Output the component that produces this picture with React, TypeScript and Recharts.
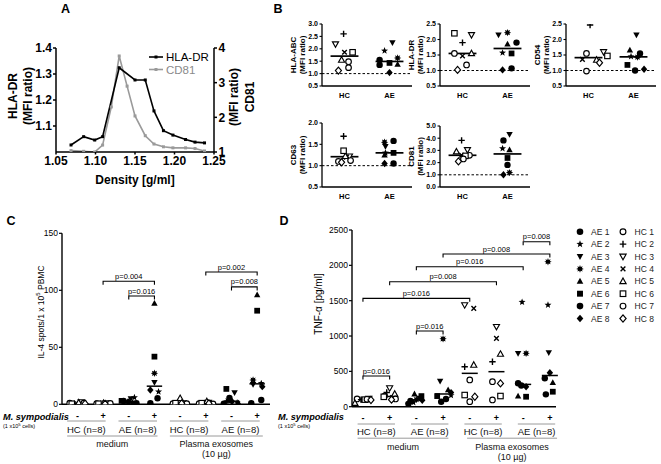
import React from 'react';
import { ScatterChart, Scatter, LineChart, Line, XAxis, YAxis, ReferenceLine } from 'recharts';

const W = 661;
const H = 464;
const FONT = '"Liberation Sans", Arial, Helvetica, sans-serif';
const AX = 1; // minimal axis box size (an axis of size 0 is not drawn)

/* ---------------- Panel A data ---------------- */
const hlaDrDensity = [1.069, 1.085, 1.099, 1.109, 1.13, 1.15, 1.163, 1.174, 1.186, 1.198, 1.214, 1.226, 1.238];
const hlaDrRatio = [1.027, 1.059, 1.046, 1.059, 1.324, 1.277, 1.277, 1.158, 1.082, 1.065, 1.048, 1.038, 1.035];
const cd81Density = [1.069, 1.085, 1.099, 1.109, 1.12, 1.13, 1.14, 1.15, 1.163, 1.174, 1.186, 1.198, 1.214, 1.226, 1.238];
const cd81Ratio = [1.04, 1.02, 1.0, 1.2, 2.3, 3.77, 2.9, 2.04, 1.47, 1.23, 1.15, 1.12, 1.12, 1.1, 1.03];
const densityTicks = [1.05, 1.1, 1.15, 1.2, 1.25];
const hlaDrTicks = [1.1, 1.2, 1.3, 1.4];
const cd81Ticks = [1, 2, 3, 4];

/* ---------------- subjects ---------------- */
const subjectsAE = ['AE 1', 'AE 2', 'AE 3', 'AE 4', 'AE 5', 'AE 6', 'AE 7', 'AE 8'];
const subjectsHC = ['HC 1', 'HC 2', 'HC 3', 'HC 4', 'HC 5', 'HC 6', 'HC 7', 'HC 8'];

/* ---------------- Panel B data (subject order 1..8) ---------------- */
const hlaAbcHC = [1.48, 2.6, 2.19, 1.86, 1.55, 1.86, 1.24, 1.12];
const hlaAbcAE = [1.55, 1.92, 2.25, 1.63, 1.37, 1.43, 1.35, 1.04];
const hlaAbcSpreadHC = [0.18, -0.04, -0.4, 0, -0.13, 0.36, 0.18, -0.27];
const hlaAbcSpreadAE = [-0.44, -0.22, 0.13, 0.36, 0.36, 0, -0.44, 0];
const hlaAbcTicks = [0.5, 1.0, 1.5, 2.0, 2.5, 3.0];

const hlaDrHC = [1.55, 1.9, 2.15, 1.47, 1.55, 2.2, 1.18, 1.02];
const hlaDrAE = [1.9, 1.57, 2.15, 2.22, 1.85, 1.55, 1.07, 1.02];
const hlaDrSpreadHC = [-0.36, 0, 0.4, 0, 0.4, -0.36, 0.18, -0.22];
const hlaDrSpreadAE = [0.4, -0.22, -0.4, 0, 0, 0.18, 0.18, -0.22];
const hlaDrBTicks = [0.5, 1.0, 1.5, 2.0, 2.5];

const cd54HC = [1.55, 2.47, 1.6, 1.36, 1.34, 1.47, 0.98, 1.25];
const cd54AE = [1.55, 1.45, 2.15, 1.43, 1.66, 1.18, 1.0, 1.04];
const cd54SpreadHC = [-0.09, 0.07, 0.67, -0.27, 0.36, 0.84, -0.09, 0.49];
const cd54SpreadAE = [0.29, -0.11, 0.13, 0.18, -0.16, -0.27, 0.07, 0.47];
const cd54Ticks = [0.5, 1.0, 1.5, 2.0, 2.5];

const cd63HC = [1.1, 1.69, 1.22, 1.2, 1.22, 1.35, 1.12, 1.08];
const cd63AE = [1.58, 1.3, 1.45, 1.55, 1.25, 1.3, 1.05, 1.05];
const cd63SpreadHC = [-0.27, -0.04, 0.22, 0.09, 0.04, -0.04, 0.27, -0.13];
const cd63SpreadAE = [0.18, -0.18, -0.18, -0.22, -0.22, 0.18, 0.18, -0.22];
const cd63Ticks = [0.5, 1.0, 1.5, 2.0];

const cd81HC = [2.6, 3.82, 3.05, 2.6, 2.9, 2.55, 2.3, 2.1];
const cd81AE = [3.82, 3.16, 4.31, 1.18, 3.04, 2.38, 1.81, 1.0];
const cd81SpreadHC = [0.31, -0.04, 0.22, -0.04, -0.27, 0.13, 0.04, -0.18];
const cd81SpreadAE = [-0.18, -0.22, 0.09, 0.09, 0.09, 0, 0, -0.18];
const cd81BTicks = [0, 1, 2, 3, 4, 5];

/* ---------------- Panel C data: IL-4 spots ---------------- */
const cMedHCneg = [1, 0.5, 2, 0.5, 1.5, 0.5, 1, 0.5];
const cMedHCpos = [0.5, 0.5, 1, 0.3, 1, 0.5, 0.8, 0.3];
const cMedAEneg = [3, 6, 5, 2, 1.5, 3, 1, 2];
const cMedAEpos = [5.3, 11, 19.3, 27.2, 88.6, 41.8, 0.9, 12.5];
const cExoHCneg = [0.5, 0.5, 1, 0.3, 5.3, 1, 0.5, 0.8];
const cExoHCpos = [0.5, 1, 1.5, 0.5, 2.5, 1, 0.3, 0.8];
const cExoAEneg = [5.5, 1.5, 10.2, 3, 1, 13.5, 0.5, 2.5];
const cExoAEpos = [3.8, 18.4, 17.5, 21.3, 95.9, 82.1, 0.9, 15.5];
const cSpread = [
  [-0.3, -0.12, 0.15, 0, 0.05, -0.22, 0.25, 0.3],
  [-0.25, -0.1, 0.12, 0.2, 0.02, -0.18, 0.28, 0.08],
  [-0.2, 0.22, 0.08, -0.05, 0.15, -0.28, 0.3, 0.0],
  [0.12, 0.16, 0, 0, 0, 0, -0.16, -0.16],
  [-0.28, -0.1, 0.12, 0.22, 0, -0.18, 0.26, 0.06],
  [-0.26, -0.08, 0.1, 0.2, 0.04, -0.16, 0.28, 0.12],
  [-0.08, 0.22, 0.12, -0.14, 0.28, -0.2, -0.3, 0.02],
  [0.16, 0.16, -0.16, -0.16, 0, 0, -0.23, 0.2],
];
const cTicks = [0, 50, 100, 150];
const cBrackets = [
  { from: 1, to: 3, h: 108, p: 'p=0.004' },
  { from: 2, to: 3, h: 95, p: 'p=0.016' },
  { from: 5, to: 7, h: 116, p: 'p=0.002' },
  { from: 6, to: 7, h: 103, p: 'p=0.008' },
];

/* ---------------- Panel D data: TNF-alpha ---------------- */
const dMedHCneg = [110, 100, 115, 95, 50, 100, 105, 95];
const dMedHCpos = [150, 200, 265, 130, 180, 140, 110, 100];
const dMedAEneg = [80, 60, 120, 100, 180, 150, 40, 90];
const dMedAEpos = [70, 160, 360, 960, 240, 150, 110, 200];
const dExoHCneg = [378, 566, 1439, 1391, 590, 165, 71, 141];
const dExoHCpos = [354, 637, 1132, 967, 745, 151, 95, 330];
const dExoAEneg = [331, 1480, 755, 755, 151, 141, 300, 283];
const dExoAEpos = [402, 1439, 764, 2051, 340, 212, 175, 481];
const dSpread = [
  [-0.22, -0.07, 0.22, 0, -0.3, 0.07, 0.15, 0.3],
  [-0.19, -0.11, 0, 0.11, 0.19, -0.22, 0.22, 0.07],
  [-0.22, -0.11, 0.11, 0, -0.07, 0.19, -0.3, 0.22],
  [-0.07, 0.3, -0.11, 0, 0.19, -0.22, 0.11, 0.3],
  [0, -0.19, -0.19, 0.15, 0.15, -0.19, 0, 0.19],
  [-0.15, -0.15, 0, 0, 0.15, 0.15, -0.15, 0.15],
  [-0.19, -0.04, -0.19, 0.11, -0.19, 0.11, -0.07, 0.11],
  [-0.19, -0.07, -0.04, -0.07, 0.11, 0.11, -0.15, 0],
];
const dTicks = [0, 500, 1000, 1500, 2000, 2500];
const dBrackets = [
  { from: 0, to: 1, h: 434, p: 'p=0.016' },
  { from: 2, to: 3, h: 1071, p: 'p=0.016' },
  { from: 0, to: 4, h: 1533, p: 'p=0.016' },
  { from: 1, to: 5, h: 1768, p: 'p=0.008' },
  { from: 2, to: 6, h: 1980, p: 'p=0.016' },
  { from: 3, to: 7, h: 2160, p: 'p=0.008' },
  { from: 6, to: 7, h: 2334, p: 'p=0.008' },
];

const stimLabels = ['-', '+'];
const pairLabels = ['HC (n=8)', 'AE (n=8)', 'HC (n=8)', 'AE (n=8)'];
const conditionLabels = [['medium'], ['Plasma exosomes', '(10 µg)']];

/* ---------------- styling constants ---------------- */
const markerAE = ['dot', 'star', 'triDown', 'burst', 'triUp', 'square', 'dot', 'diamond'];
const markerHC = ['oCircle', 'plus', 'oTriDown', 'cross', 'oTriUp', 'oSquare', 'oCircle', 'oDiamond'];

const median = (arr: number[]) => {
  const s = [...arr].sort((a, b) => a - b);
  const n = s.length;
  return n % 2 ? s[(n - 1) / 2] : (s[n / 2 - 1] + s[n / 2]) / 2;
};

function starPoints(cx: number, cy: number, n: number, ro: number, ri: number) {
  const pts: string[] = [];
  for (let i = 0; i < 2 * n; i++) {
    const r = i % 2 === 0 ? ro : ri;
    const a = -Math.PI / 2 + (i * Math.PI) / n;
    pts.push(`${(cx + r * Math.cos(a)).toFixed(2)},${(cy + r * Math.sin(a)).toFixed(2)}`);
  }
  return pts.join(' ');
}

function Marker({ kind, cx, cy, r }: any) {
  if (cx == null || cy == null || Number.isNaN(cx) || Number.isNaN(cy)) return null;
  const ink = '#000';
  const sw = 1.15;
  switch (kind) {
    case 'dot':
      return <circle cx={cx} cy={cy} r={r} fill={ink} />;
    case 'oCircle':
      return <circle cx={cx} cy={cy} r={r - 0.4} fill="#fff" stroke={ink} strokeWidth={sw} />;
    case 'star':
      return <polygon points={starPoints(cx, cy, 5, r * 1.15, r * 0.48)} fill={ink} />;
    case 'burst':
      return <polygon points={starPoints(cx, cy, 8, r * 1.15, r * 0.62)} fill={ink} />;
    case 'triUp':
      return <polygon points={`${cx},${cy - r * 1.05} ${cx + r},${cy + r * 0.75} ${cx - r},${cy + r * 0.75}`} fill={ink} />;
    case 'oTriUp':
      return <polygon points={`${cx},${cy - r * 1.0} ${cx + r * 0.95},${cy + r * 0.7} ${cx - r * 0.95},${cy + r * 0.7}`} fill="#fff" stroke={ink} strokeWidth={sw} />;
    case 'triDown':
      return <polygon points={`${cx - r},${cy - r * 0.75} ${cx + r},${cy - r * 0.75} ${cx},${cy + r * 1.05}`} fill={ink} />;
    case 'oTriDown':
      return <polygon points={`${cx - r * 0.95},${cy - r * 0.7} ${cx + r * 0.95},${cy - r * 0.7} ${cx},${cy + r * 1.0}`} fill="#fff" stroke={ink} strokeWidth={sw} />;
    case 'square':
      return <rect x={cx - r * 0.9} y={cy - r * 0.9} width={r * 1.8} height={r * 1.8} fill={ink} />;
    case 'oSquare':
      return <rect x={cx - r * 0.85} y={cy - r * 0.85} width={r * 1.7} height={r * 1.7} fill="#fff" stroke={ink} strokeWidth={sw} />;
    case 'diamond':
      return <polygon points={`${cx},${cy - r * 1.15} ${cx + r},${cy} ${cx},${cy + r * 1.15} ${cx - r},${cy}`} fill={ink} />;
    case 'oDiamond':
      return <polygon points={`${cx},${cy - r * 1.1} ${cx + r * 0.95},${cy} ${cx},${cy + r * 1.1} ${cx - r * 0.95},${cy}`} fill="#fff" stroke={ink} strokeWidth={sw} />;
    case 'plus':
      return <path d={`M${cx - r},${cy}H${cx + r}M${cx},${cy - r}V${cy + r}`} stroke={ink} strokeWidth={1.4} fill="none" />;
    case 'cross': {
      const d = r * 0.72;
      return <path d={`M${cx - d},${cy - d}L${cx + d},${cy + d}M${cx - d},${cy + d}L${cx + d},${cy - d}`} stroke={ink} strokeWidth={1.4} fill="none" />;
    }
    default:
      return null;
  }
}

const shapeR = (r: number) => (p: any) => {
  const kind = (p.payload && p.payload.kind) || p.kind;
  return <Marker kind={kind} cx={p.cx} cy={p.cy} r={r} />;
};

const Layer = ({ children }: any) => (
  <div style={{ position: 'absolute', left: 0, top: 0, width: W, height: H }}>{children}</div>
);

// plot box -> chart margin (accounting for the 1px axis boxes)
const marginOf = (b: any, rightAxis = false) => ({
  top: b.y0,
  left: b.x0 - AX,
  right: W - b.x1 - (rightAxis ? AX : 0),
  bottom: H - b.y1 - AX,
});

/* ---------------- Panel A ---------------- */
const A_BOX = { x0: 56, x1: 214, y0: 48, y1: 152 };

const squareDot = (color: string, s: number) => (p: any) => {
  if (p.cx == null || p.cy == null) return <g key={p.index} />;
  return <rect key={p.index} x={p.cx - s / 2} y={p.cy - s / 2} width={s} height={s} fill={color} />;
};

function PanelA() {
  const hla = hlaDrDensity.map((x, i) => ({ x, v: hlaDrRatio[i] }));
  const cd = cd81Density.map((x, i) => ({ x, v: cd81Ratio[i] }));
  const tick = { fontSize: 12, fontWeight: 700, fill: '#000' };
  return (
    <Layer>
      <LineChart width={W} height={H} margin={marginOf(A_BOX, true)}>
        <XAxis type="number" dataKey="x" domain={[1.05, 1.25]} ticks={densityTicks} interval={0}
          tickFormatter={(v: number) => v.toFixed(2)} height={AX} tickSize={2.5} tickMargin={1.5}
          tick={tick} axisLine={{ stroke: '#000', strokeWidth: 1.5 }} tickLine={{ stroke: '#000', strokeWidth: 1.5 }} allowDataOverflow />
        <YAxis yAxisId="l" type="number" domain={[1.0, 1.4]} ticks={hlaDrTicks} interval={0}
          tickFormatter={(v: number) => v.toFixed(1)} width={AX} tickSize={3} tickMargin={1}
          tick={tick} axisLine={{ stroke: '#000', strokeWidth: 1.5 }} tickLine={{ stroke: '#000', strokeWidth: 1.5 }} allowDataOverflow />
        <YAxis yAxisId="r" orientation="right" type="number" domain={[1, 4]} ticks={cd81Ticks} interval={0}
          width={AX} tickSize={3} tickMargin={1.5}
          tick={tick} axisLine={{ stroke: '#000', strokeWidth: 1.5 }} tickLine={{ stroke: '#000', strokeWidth: 1.5 }} allowDataOverflow />
        <Line yAxisId="r" data={cd} dataKey="v" stroke="#9a9a9a" strokeWidth={1.6} dot={squareDot('#9a9a9a', 3)} isAnimationActive={false} />
        <Line yAxisId="l" data={hla} dataKey="v" stroke="#000" strokeWidth={1.6} dot={squareDot('#000', 3)} isAnimationActive={false} />
      </LineChart>
    </Layer>
  );
}

/* ---------------- Panel B ---------------- */
const bCharts = [
  { key: 'abc', label: ['HLA-ABC', '(MFI ratio)'], hc: hlaAbcHC, ae: hlaAbcAE, hs: hlaAbcSpreadHC, as: hlaAbcSpreadAE, domain: [0.5, 3.0], ticks: hlaAbcTicks, box: { x0: 322, x1: 412, y0: 24, y1: 86 } },
  { key: 'dr', label: ['HLA-DR', '(MFI ratio)'], hc: hlaDrHC, ae: hlaDrAE, hs: hlaDrSpreadHC, as: hlaDrSpreadAE, domain: [0.5, 2.5], ticks: hlaDrBTicks, box: { x0: 440, x1: 530, y0: 24, y1: 86 } },
  { key: 'cd54', label: ['CD54', '(MFI ratio)'], hc: cd54HC, ae: cd54AE, hs: cd54SpreadHC, as: cd54SpreadAE, domain: [0.5, 2.5], ticks: cd54Ticks, box: { x0: 566, x1: 656, y0: 24, y1: 86 } },
  { key: 'cd63', label: ['CD63', '(MFI ratio)'], hc: cd63HC, ae: cd63AE, hs: cd63SpreadHC, as: cd63SpreadAE, domain: [0.5, 2.0], ticks: cd63Ticks, box: { x0: 322, x1: 412, y0: 123, y1: 187 } },
  { key: 'cd81', label: ['CD81', '(MFI ratio)'], hc: cd81HC, ae: cd81AE, hs: cd81SpreadHC, as: cd81SpreadAE, domain: [0, 5], ticks: cd81BTicks, box: { x0: 440, x1: 530, y0: 126, y1: 187 } },
];
const B_MEDIAN_HALF = 0.62;

function DotChart({ cfg }: any) {
  const pts = [
    ...cfg.hc.map((v: number, i: number) => ({ x: 1 + cfg.hs[i], y: v, kind: markerHC[i] })),
    ...cfg.ae.map((v: number, i: number) => ({ x: 3 + cfg.as[i], y: v, kind: markerAE[i] })),
  ];
  const mh = median(cfg.hc);
  const ma = median(cfg.ae);
  return (
    <Layer>
      <ScatterChart width={W} height={H} margin={marginOf(cfg.box)}>
        <XAxis type="number" dataKey="x" domain={[0, 4]} ticks={[1, 3]} interval={0}
          tickFormatter={(v: number) => (v === 1 ? 'HC' : 'AE')} height={AX} tickLine={false} tickSize={0} tickMargin={7}
          axisLine={{ stroke: '#000', strokeWidth: 1.3 }} tick={{ fontSize: 7.5, fontWeight: 700, fill: '#000' }} allowDataOverflow />
        <YAxis type="number" dataKey="y" domain={cfg.domain} ticks={cfg.ticks} interval={0}
          tickFormatter={(v: number) => v.toFixed(1)} width={AX} tickSize={2.5} tickMargin={1.5}
          axisLine={{ stroke: '#000', strokeWidth: 1.3 }} tickLine={{ stroke: '#000', strokeWidth: 1.1 }}
          tick={{ fontSize: 7, fontWeight: 700, fill: '#000' }} allowDataOverflow />
        <ReferenceLine y={1} stroke="#000" strokeWidth={1} strokeDasharray="2.5 2" />
        <ReferenceLine segment={[{ x: 1 - B_MEDIAN_HALF, y: mh }, { x: 1 + B_MEDIAN_HALF, y: mh }]} stroke="#000" strokeWidth={1.7} ifOverflow="visible" />
        <ReferenceLine segment={[{ x: 3 - B_MEDIAN_HALF, y: ma }, { x: 3 + B_MEDIAN_HALF, y: ma }]} stroke="#000" strokeWidth={1.7} ifOverflow="visible" />
        <Scatter data={pts} isAnimationActive={false} shape={shapeR(3.2)} />
      </ScatterChart>
    </Layer>
  );
}

/* ---------------- Panels C and D ---------------- */
const bracketShape = (text: string) => (p: any) => {
  const x1 = Math.min(p.x1, p.x2);
  const x2 = Math.max(p.x1, p.x2);
  const y = p.y1;
  return (
    <g>
      <path d={`M${x1},${y + 3.5}V${y}H${x2}V${y + 3.5}`} fill="none" stroke="#000" strokeWidth={1.1} />
      <text x={(x1 + x2) / 2} y={y - 2.5} textAnchor="middle" fontSize={7.5} fill="#000">{text}</text>
    </g>
  );
};

const ruleShape = (dyLine: number, texts: string[], textDys: number[], fontSize: number) => (p: any) => {
  const x1 = Math.min(p.x1, p.x2);
  const x2 = Math.max(p.x1, p.x2);
  const y = p.y1;
  return (
    <g>
      <line x1={x1} x2={x2} y1={y + dyLine} y2={y + dyLine} stroke="#9a9a9a" strokeWidth={1} />
      {texts.map((t, i) => (
        <text key={t} x={(x1 + x2) / 2} y={y + textDys[i]} textAnchor="middle" dominantBaseline="central" fontSize={fontSize} fill="#111">{t}</text>
      ))}
    </g>
  );
};

const C_CFG = {
  box: { x0: 62, x1: 270, y0: 233.3, y1: 404.3 },
  xDomain: [-0.6, 7.5],
  yDomain: [0, 150],
  yTicks: cTicks,
  groups: [cMedHCneg, cMedHCpos, cMedAEneg, cMedAEpos, cExoHCneg, cExoHCpos, cExoAEneg, cExoAEpos],
  spreads: cSpread,
  brackets: cBrackets,
  pairA: -0.4, pairB: 1.1,
  bigSpans: [[-0.4, 3.12], [3.6, 7.22]],
  stimMargin: 8,
  rule: { line1: 16.7, pairText: 24.7, line2: 31.7, bigText: [39.2, 49.2] },
  medHalf: 0.3,
};
const D_CFG = {
  box: { x0: 352, x1: 556, y0: 230, y1: 406.7 },
  xDomain: [-0.41, 7.23],
  yDomain: [0, 2500],
  yTicks: dTicks,
  groups: [dMedHCneg, dMedHCpos, dMedAEneg, dMedAEpos, dExoHCneg, dExoHCpos, dExoAEneg, dExoAEpos],
  spreads: dSpread,
  brackets: dBrackets,
  pairA: -0.2, pairB: 1.2,
  bigSpans: [[-0.2, 3.2], [3.9, 7.27]],
  stimMargin: 7.5,
  rule: { line1: 17.3, pairText: 25, line2: 31.5, bigText: [40.3, 50.3] },
  medHalf: 0.3,
};

function GroupChart({ cfg }: any) {
  const isAE = (g: number) => Math.floor(g / 2) % 2 === 1;
  const pts = cfg.groups.flatMap((vals: number[], g: number) =>
    vals.map((v, i) => ({ x: g + cfg.spreads[g][i], y: v, kind: (isAE(g) ? markerAE : markerHC)[i] })));
  const meds = cfg.groups.map((vals: number[]) => median(vals));
  const stimTicks = cfg.groups.map((_: any, g: number) => g);
  return (
    <Layer>
      <ScatterChart width={W} height={H} margin={marginOf(cfg.box)}>
        <XAxis type="number" dataKey="x" domain={cfg.xDomain} ticks={stimTicks} interval={0}
          tickFormatter={(v: number) => stimLabels[v % 2]} height={AX} tickLine={false} tickSize={0} tickMargin={cfg.stimMargin}
          axisLine={{ stroke: '#000', strokeWidth: 1.4 }} tick={{ fontSize: 9, fontWeight: 700, fill: '#000' }} allowDataOverflow />
        <YAxis type="number" dataKey="y" domain={cfg.yDomain} ticks={cfg.yTicks} interval={0}
          width={AX} tickSize={3} tickMargin={1}
          axisLine={{ stroke: '#000', strokeWidth: 1.4 }} tickLine={{ stroke: '#000', strokeWidth: 1.2 }}
          tick={{ fontSize: 8.5, fill: '#000' }} allowDataOverflow />
        {meds.map((m: number, g: number) => (
          <ReferenceLine key={`m${g}`} segment={[{ x: g - cfg.medHalf, y: m }, { x: g + cfg.medHalf, y: m }]} stroke="#000" strokeWidth={1.5} ifOverflow="visible" />
        ))}
        {cfg.brackets.map((b: any, i: number) => (
          <ReferenceLine key={`b${i}`} segment={[{ x: b.from, y: b.h }, { x: b.to, y: b.h }]} ifOverflow="visible" shape={bracketShape(b.p)} />
        ))}
        {pairLabels.map((t: string, p: number) => (
          <ReferenceLine key={`p${p}`} segment={[{ x: 2 * p + cfg.pairA, y: 0 }, { x: 2 * p + cfg.pairB, y: 0 }]} ifOverflow="visible"
            shape={ruleShape(cfg.rule.line1, [t], [cfg.rule.pairText], 9.5)} />
        ))}
        {conditionLabels.map((ts: string[], k: number) => (
          <ReferenceLine key={`c${k}`} segment={[{ x: cfg.bigSpans[k][0], y: 0 }, { x: cfg.bigSpans[k][1], y: 0 }]} ifOverflow="visible"
            shape={ruleShape(cfg.rule.line2, ts, cfg.rule.bigText, 9)} />
        ))}
        <Scatter data={pts} isAnimationActive={false} shape={shapeR(3.2)} />
      </ScatterChart>
    </Layer>
  );
}

/* ---------------- free text overlay ---------------- */
function RotText({ x, y, children, size, weight }: any) {
  return (
    <text transform={`translate(${x},${y}) rotate(-90)`} textAnchor="middle" dominantBaseline="central"
      fontSize={size} fontWeight={weight} fill="#000">{children}</text>
  );
}

function Overlay() {
  const legendY0 = 231.7;
  const legendDy = 12.4;
  return (
    <svg width={W} height={H} style={{ position: 'absolute', left: 0, top: 0 }}>
      {/* panel letters */}
      <text x={65.5} y={8.5} textAnchor="middle" dominantBaseline="central" fontSize={12.5} fontWeight={700}>A</text>
      <text x={278} y={8.5} textAnchor="middle" dominantBaseline="central" fontSize={12.5} fontWeight={700}>B</text>
      <text x={11} y={220.5} textAnchor="middle" dominantBaseline="central" fontSize={12.5} fontWeight={700}>C</text>
      <text x={284} y={220.5} textAnchor="middle" dominantBaseline="central" fontSize={12.5} fontWeight={700}>D</text>

      {/* panel A labels */}
      <RotText x={12.5} y={96} size={12} weight={700}>HLA-DR</RotText>
      <RotText x={28} y={96} size={12} weight={700}>(MFI ratio)</RotText>
      <RotText x={234} y={97} size={12} weight={700}>(MFI ratio)</RotText>
      <RotText x={250} y={97} size={12} weight={700}>CD81</RotText>
      <text x={135} y={180} textAnchor="middle" dominantBaseline="central" fontSize={12} fontWeight={700}>Density [g/ml]</text>
      <g>
        <line x1={149} x2={163} y1={57} y2={57} stroke="#000" strokeWidth={1.6} />
        <rect x={154.5} y={55.5} width={3} height={3} fill="#000" />
        <text x={166} y={57} dominantBaseline="central" fontSize={11.5} fill="#000">HLA-DR</text>
        <line x1={149} x2={163} y1={69.5} y2={69.5} stroke="#9a9a9a" strokeWidth={1.6} />
        <rect x={154.5} y={68} width={3} height={3} fill="#9a9a9a" />
        <text x={166} y={69.5} dominantBaseline="central" fontSize={11.5} fill="#8a8a8a">CD81</text>
      </g>

      {/* panel B axis labels */}
      {bCharts.map((c) => {
        const cy = (c.box.y0 + c.box.y1) / 2;
        return (
          <g key={c.key}>
            <RotText x={c.box.x0 - 28.5} y={cy} size={8} weight={700}>{c.label[0]}</RotText>
            <RotText x={c.box.x0 - 20} y={cy} size={8} weight={700}>{c.label[1]}</RotText>
          </g>
        );
      })}

      {/* panel C/D axis labels */}
      <text transform="translate(41,312) rotate(-90)" textAnchor="middle" dominantBaseline="central" fontSize={8.5} fill="#000">
        IL-4 spots/1 x 10<tspan fontSize={6} dy={-3}>5</tspan><tspan dy={3}> PBMC</tspan>
      </text>
      <RotText x={318} y={304} size={10} weight={400}>TNF-α [pg/ml]</RotText>

      {[3, 278].map((x) => (
        <g key={x}>
          <text x={x} y={417} dominantBaseline="central" fontSize={9.2} fontWeight={700} fontStyle="italic">M. sympodialis</text>
          <text x={x} y={425.5} dominantBaseline="central" fontSize={5.5} fill="#000">
            (1 x10<tspan fontSize={4.2} dy={-2}>5</tspan><tspan dy={2}> cells)</tspan>
          </text>
        </g>
      ))}

      {/* panel D legend */}
      {subjectsAE.map((s, i) => {
        const y = legendY0 + legendDy * i;
        return (
          <g key={s}>
            <Marker kind={markerAE[i]} cx={580} cy={y} r={3.3} />
            <text x={591} y={y} dominantBaseline="central" fontSize={8.5} fill="#222">{s}</text>
            <Marker kind={markerHC[i]} cx={623} cy={y} r={3.3} />
            <text x={634.5} y={y} dominantBaseline="central" fontSize={8.5} fill="#222">{subjectsHC[i]}</text>
          </g>
        );
      })}
    </svg>
  );
}

export default function App() {
  return (
    <div style={{ position: 'absolute', left: 0, top: 0, width: W, height: H, background: '#fff', fontFamily: FONT, overflow: 'hidden' }}>
      <PanelA />
      {bCharts.map((c) => <DotChart key={c.key} cfg={c} />)}
      <GroupChart cfg={C_CFG} />
      <GroupChart cfg={D_CFG} />
      <Overlay />
    </div>
  );
}
